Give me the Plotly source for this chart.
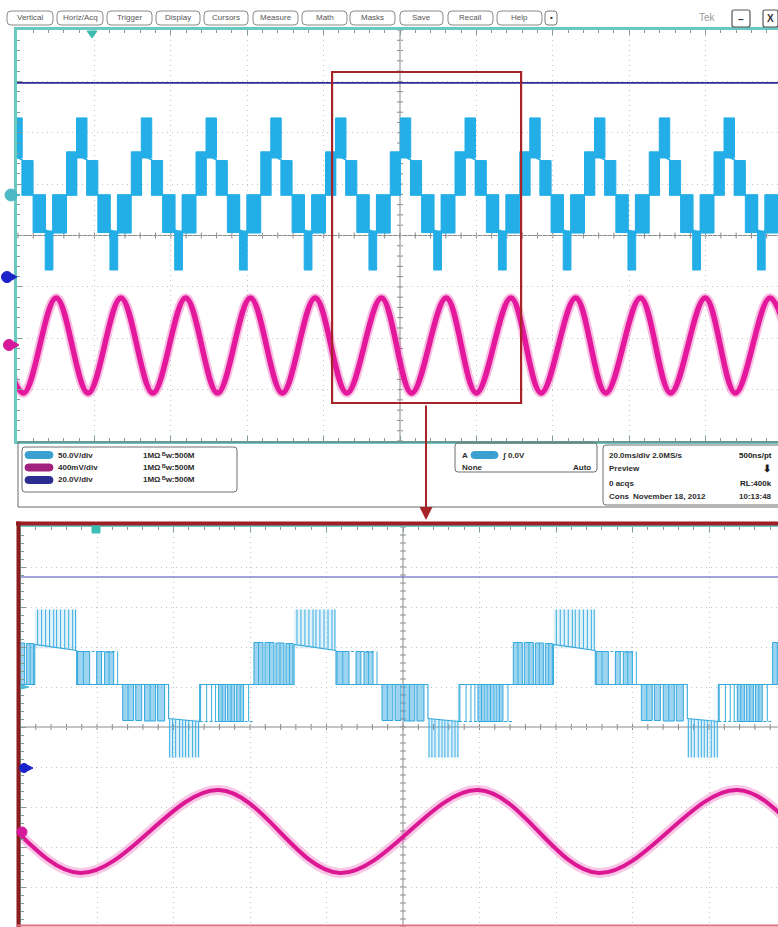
import plotly.graph_objects as go

W, H = 778, 927

# ------------------------------------------------------------------ data ---
# fundamental period of the inverter output (ms)
PERIOD_MS = 16.95
# start of every fundamental period inside the record (ms, trigger at 0 ms)
period_starts_ms = [-104.25, -87.30, -70.35, -53.40, -36.45, -19.50,
                    -2.55, 14.40, 31.35, 48.30, 65.25, 82.20, 99.15]

# CH1 - five-level inverter phase voltage (V); one period, times in ms
# measured from the start of the period.
# switching regions seen at 20 ms/div: (t_start, t_end, low V, high V)
ch1_regions = [
    (0.00, 2.62, 0.0, 42.0),      # PWM between 0 and +1 level
    (2.62, 5.36, 36.0, 75.0),     # +1 level with pulses to +2
    (5.36, 8.20, 0.0, 33.5),      # PWM between +1 and 0
    (8.20, 11.37, -36.5, 0.0),    # PWM between 0 and -1
    (11.37, 13.40, -73.0, -35.0), # -1 level with pulses to -2
    (13.40, 16.95, -37.0, 0.0),   # PWM between -1 and 0
]
# densely switched PWM blocks resolved at 5 ms/div: (t_start, t_end, low V, high V)
ch1_pwm_blocks = [
    (0.00, 0.59, 0.0, 42.0),
    (0.72, 1.31, 0.0, 42.0),
    (1.44, 1.96, 0.0, 41.5),
    (2.09, 2.55, 0.0, 41.0),
    (5.42, 6.21, 0.0, 33.0),
    (6.67, 6.99, 0.0, 33.0),
    (7.19, 7.78, 0.0, 32.5),
    (8.37, 9.08, -36.0, 0.0),
    (9.22, 9.61, -36.0, 0.0),
    (9.80, 10.52, -36.5, 0.0),
    (10.65, 11.11, -36.5, 0.0),
    (14.64, 15.10, -37.0, 0.0),
    (15.23, 15.69, -37.0, 0.0),
    (15.82, 16.27, -37.0, 0.0),
]
# single switching edges: (t, from V, to V)
ch1_pulses = [
    (0.30, 0.0, 42.0), (1.02, 0.0, 42.0), (1.70, 0.0, 41.5), (2.32, 0.0, 41.0),
    (2.81, 39.7, 75.0), (3.07, 39.1, 75.0), (3.33, 38.5, 75.0), (3.59, 38.0, 75.0),
    (3.86, 37.4, 75.0), (4.05, 36.9, 75.0), (4.31, 36.3, 75.0), (4.58, 35.7, 75.0),
    (4.84, 35.2, 75.0), (5.10, 34.6, 75.0), (5.29, 34.2, 75.0),
    (5.80, 0.0, 33.0), (7.48, 0.0, 32.5), (8.04, 0.0, 33.0),
    (8.72, -36.0, 0.0), (10.16, -36.5, 0.0),
    (11.44, -34.1, -73.0), (11.63, -34.4, -73.0), (11.83, -34.7, -73.0), (12.09, -35.0, -73.0),
    (12.29, -35.3, -73.0), (12.48, -35.6, -73.0), (12.68, -35.9, -73.0), (12.94, -36.2, -73.0),
    (13.14, -36.5, -73.0), (13.33, -36.8, -73.0),
    (13.46, -37.0, 0.0), (13.86, -37.0, 0.0), (14.18, -37.0, 0.0), (14.44, -37.0, 0.0),
    (14.87, -37.0, 0.0), (15.46, -37.0, 0.0), (16.05, -37.0, 0.0),
    (16.60, -37.0, 0.0),
]
# flat rails held between pulses: (t_start, t_end, V)
ch1_rails = [
    (5.36, 7.85, 33.0),
    (13.40, 16.95, -37.0),
]
# resting level path through one period
ch1_level_t_ms = [0.00, 2.62, 2.62, 5.36, 5.36, 11.37, 11.37, 13.40, 13.40, 16.95]
ch1_level_v = [0.0, 0.0, 40.0, 34.0, 0.0, 0.0, -34.0, -37.0, 0.0, 0.0]

# CH2 - load current probe output (mV): successive extremes of the waveform
ch2_t_ms = [-106.95, -98.60, -90.00, -81.65, -73.05, -64.70, -56.10, -47.75,
            -39.15, -30.80, -22.20, -13.90, -4.85, 3.07, 12.10, 20.00,
            29.05, 36.95, 46.00, 53.90, 62.95, 70.85, 79.90, 87.80,
            96.85, 104.75]
ch2_mv = [370, -370, 370, -370, 370, -370, 370, -370,
          370, -370, 370, -370, 370, -370, 370, -370,
          370, -370, 370, -370, 370, -370, 370, -370,
          370, -370]

# CH3 - DC link voltage (V)
ch3_t_ms = [-110.0, 110.0]
ch3_v = [75.5, 75.5]

# ------------------------------------------------------------- readouts ---
menu_labels = ["Vertical", "Horiz/Acq", "Trigger", "Display", "Cursors",
               "Measure", "Math", "Masks", "Save", "Recall", "Help"]
channel_scales = ["50.0V/div", "400mV/div", "20.0V/div"]
channel_inputs = ["1MΩ", "1MΩ", "1MΩ"]
channel_bw = ["500M", "500M", "500M"]
trigger_level = "0.0V"
timebase_rows = [("20.0ms/div 2.0MS/s", "500ns/pt"),
                 ("Preview", "⬇"),
                 ("0 acqs", "RL:400k")]
stamp = ("Cons", "November 18, 2012", "10:13:48")

# ------------------------------------------------------------- geometry ---
TEAL = "#69c8bf"
TICK = "#7f9c9a"
GRID = "#c4c4c4"
RULER = "#8a8a8a"
RED = "#a6232a"
CYAN = "#24aee7"
MAG = "#e3189d"
NAVY = "#2e2f96"
PANEL_TXT = "#2c2c2c"
FONT = "Liberation Sans, Arial, sans-serif"


def PX(x):
    return x / W


def PY(y):
    return 1 - y / H


# main display (20 ms/div, 8 vertical divisions)
UP_L, UP_R, UP_T, UP_B = 17, 778, 30, 441
UP_CX, UP_CY = 400, 235.5
UP_PX_PER_XDIV = 76.4
UP_MS_PER_PX = 20 / UP_PX_PER_XDIV
UP_PX_PER_DIV = (UP_B - UP_T) / 8
X_UP = [(UP_L - UP_CX) * UP_MS_PER_PX, (UP_R - UP_CX) * UP_MS_PER_PX]

# zoom display (5 ms/div)
LO_L, LO_R, LO_T, LO_B = 21, 778, 527, 927
LO_CX, LO_CY = 403, 727
LO_T_CENTER = 7.19
LO_PX_PER_XDIV = 76.5
LO_MS_PER_PX = 5 / LO_PX_PER_XDIV
LO_PX_PER_DIV = 40
X_LO = [LO_T_CENTER + (LO_L - LO_CX) * LO_MS_PER_PX,
        LO_T_CENTER + (LO_R - LO_CX) * LO_MS_PER_PX]

# channel ground marker row (px) and vertical gain (px per unit) on each display
UP_CH = {"ch1": (195.0, 1.028), "ch2": (345.5, 0.1285), "ch3": (277.0, 2.57)}
LO_CH = {"ch1": (684.5, 1.0), "ch2": (831.5, 0.1122), "ch3": (768.0, 2.53)}


def ch_range(gnd, ppu, top, bot):
    return [(gnd - bot) / ppu, (gnd - top) / ppu]


# ------------------------------------------------------------ helpers ---
def tile_rects(rects):
    xs, ys = [], []
    for s in period_starts_ms:
        for t0, t1, lo, hi in rects:
            xs += [s + t0, s + t1, s + t1, s + t0, s + t0, None]
            ys += [lo, lo, hi, hi, lo, None]
    return xs, ys


def tile_pulses(pulses):
    xs, ys = [], []
    for s in period_starts_ms:
        for t, a, b in pulses:
            xs += [s + t, s + t, None]
            ys += [a, b, None]
    return xs, ys


def tile_rails(rails):
    xs, ys = [], []
    for s in period_starts_ms:
        for t0, t1, v in rails:
            xs += [s + t0, s + t1, None]
            ys += [v, v, None]
    return xs, ys


def tile_path(ts, vs):
    xs, ys = [], []
    for s in period_starts_ms:
        xs += [s + t for t in ts]
        ys += list(vs)
    return xs, ys


reg_x, reg_y = tile_rects(ch1_regions)
blk_x, blk_y = tile_rects(ch1_pwm_blocks)
spk_x, spk_y = tile_rects([r for r in ch1_regions if abs(r[2]) > 1 and abs(r[3]) > 1])
pul_x, pul_y = tile_pulses(ch1_pulses)
rail_x, rail_y = tile_rails(ch1_rails)
lvl_x, lvl_y = tile_path(ch1_level_t_ms, ch1_level_v)

fig = go.Figure()


def add(tr):
    fig.add_trace(tr)


# ---------------------------------------------------------- main display ---
# y  = CH1 (V), y3 = CH2 (mV), y4 = CH3 (V)
add(go.Scatter(x=ch3_t_ms, y=ch3_v, mode="lines", xaxis="x", yaxis="y4",
               line=dict(color=NAVY, width=1.7), hoverinfo="skip"))
add(go.Scatter(x=reg_x, y=reg_y, mode="lines", fill="toself", fillcolor=CYAN,
               line=dict(color=CYAN, width=1), xaxis="x", yaxis="y", hoverinfo="skip"))
add(go.Scatter(x=lvl_x, y=lvl_y, mode="lines", line=dict(color=CYAN, width=1.6),
               xaxis="x", yaxis="y", hoverinfo="skip"))
add(go.Scatter(x=ch2_t_ms, y=ch2_mv, mode="lines", xaxis="x", yaxis="y3",
               line=dict(color="rgba(236,70,172,0.35)", width=9.5, shape="spline"),
               hoverinfo="skip"))
add(go.Scatter(x=ch2_t_ms, y=ch2_mv, mode="lines", xaxis="x", yaxis="y3",
               line=dict(color=MAG, width=5.5, shape="spline"), hoverinfo="skip"))

# ---------------------------------------------------------- zoom display ---
# y2 = CH1 (V), y5 = CH2 (mV), y6 = CH3 (V)
add(go.Scatter(x=ch3_t_ms, y=ch3_v, mode="lines", xaxis="x2", yaxis="y6",
               line=dict(color="#4748b2", width=1.2), hoverinfo="skip"))
add(go.Scatter(x=spk_x, y=spk_y, mode="lines", fill="toself",
               fillcolor="rgba(90,185,232,0.18)", line=dict(width=0),
               xaxis="x2", yaxis="y2", hoverinfo="skip"))
add(go.Scatter(x=blk_x, y=blk_y, mode="lines", fill="toself",
               fillcolor="rgba(60,172,228,0.50)", line=dict(color="#30a7dd", width=1),
               xaxis="x2", yaxis="y2", hoverinfo="skip"))
add(go.Scatter(x=pul_x, y=pul_y, mode="lines", line=dict(color="#3aaee2", width=1),
               xaxis="x2", yaxis="y2", hoverinfo="skip"))
add(go.Scatter(x=rail_x, y=rail_y, mode="lines",
               line=dict(color="#34a9de", width=1, dash="3px,2px"),
               xaxis="x2", yaxis="y2", hoverinfo="skip"))
add(go.Scatter(x=lvl_x, y=lvl_y, mode="lines", line=dict(color="#34a9de", width=1.1),
               xaxis="x2", yaxis="y2", hoverinfo="skip"))
add(go.Scatter(x=ch2_t_ms, y=ch2_mv, mode="lines", xaxis="x2", yaxis="y5",
               line=dict(color="rgba(236,70,172,0.30)", width=10, shape="spline"),
               hoverinfo="skip"))
add(go.Scatter(x=ch2_t_ms, y=ch2_mv, mode="lines", xaxis="x2", yaxis="y5",
               line=dict(color="#dc1793", width=4, shape="spline"), hoverinfo="skip"))


# ----------------------------------------------------------------- axes ---
def frame_x(domain, rng, dtick, tick0, anchor, side, mirror, lw):
    return dict(domain=domain, range=rng, anchor=anchor, side=side,
                tickmode="linear", dtick=dtick, tick0=tick0,
                showgrid=True, gridcolor=GRID, griddash="1px,4px", gridwidth=1,
                zeroline=False, showticklabels=False,
                showline=True, linecolor=TEAL, linewidth=lw, mirror=mirror,
                ticks="inside", ticklen=5, tickcolor=TICK, tickwidth=1,
                minor=dict(dtick=dtick / 5, tick0=tick0, ticks="inside", ticklen=3,
                           tickcolor=TICK, showgrid=False),
                fixedrange=True)


def frame_y(domain, gnd, ppu, top, bot, center, px_per_div, anchor, lw):
    """CH1 axis; its grid is laid out on the graticule divisions."""
    dtick = px_per_div / ppu
    tick0 = (gnd - center) / ppu
    return dict(domain=domain, range=ch_range(gnd, ppu, top, bot), anchor=anchor,
                tickmode="linear", dtick=dtick, tick0=tick0,
                showgrid=True, gridcolor=GRID, griddash="1px,4px", gridwidth=1,
                zeroline=False, showticklabels=False,
                showline=True, linecolor=TEAL, linewidth=lw, mirror=False,
                ticks="inside", ticklen=5, tickcolor=TICK, tickwidth=1,
                minor=dict(dtick=dtick / 5, tick0=tick0, ticks="inside", ticklen=3,
                           tickcolor=TICK, showgrid=False),
                fixedrange=True)


def channel(base, anchor, rng):
    return dict(overlaying=base, anchor=anchor, range=rng, visible=False,
                showgrid=False, zeroline=False, fixedrange=True)


up_xdom = [PX(UP_L), 1.0]
up_ydom = [PY(UP_B), PY(UP_T)]
lo_xdom = [PX(LO_L), 1.0]
lo_ydom = [max(PY(LO_B), 0.0), PY(LO_T)]

layout_axes = dict(
    xaxis=frame_x(up_xdom, X_UP, 20, 0, "y", "bottom", "ticks", 3),
    yaxis=frame_y(up_ydom, *UP_CH["ch1"], UP_T, UP_B, UP_CY, UP_PX_PER_DIV, "x", 3),
    xaxis2=frame_x(lo_xdom, X_LO, 5, LO_T_CENTER, "y2", "top", False, 1.5),
    yaxis2=frame_y(lo_ydom, *LO_CH["ch1"], LO_T, LO_B, LO_CY, LO_PX_PER_DIV, "x2", 1.5),
    yaxis3=channel("y", "x", ch_range(*UP_CH["ch2"], UP_T, UP_B)),
    yaxis4=channel("y", "x", ch_range(*UP_CH["ch3"], UP_T, UP_B)),
    yaxis5=channel("y2", "x2", ch_range(*LO_CH["ch2"], LO_T, LO_B)),
    yaxis6=channel("y2", "x2", ch_range(*LO_CH["ch3"], LO_T, LO_B)),
)

# ---------------------------------------------------- UI shapes & text ---
shapes = []
annotations = []


def seg_path(segs):
    return " ".join(f"M {PX(a)},{PY(b)} L {PX(c)},{PY(d)}" for a, b, c, d in segs)


def ruler_shapes(left, right, top, bottom, cx, cy, xstep, ystep):
    """Center cross of the graticule with its small division marks."""
    segs = [(left, cy, right, cy), (cx, top, cx, bottom)]
    k = 0
    while cx - k * xstep >= left - 0.1 or cx + k * xstep <= right + 0.1:
        for x in {cx - k * xstep, cx + k * xstep}:
            if left <= x <= right:
                segs.append((x, cy - 3, x, cy + 3))
        k += 1
    k = 0
    while cy - k * ystep >= top - 0.1 or cy + k * ystep <= bottom + 0.1:
        for y in {cy - k * ystep, cy + k * ystep}:
            if top <= y <= bottom:
                segs.append((cx - 3, y, cx + 3, y))
        k += 1
    shapes.append(dict(type="path", xref="paper", yref="paper", path=seg_path(segs),
                       line=dict(color=RULER, width=1), layer="below"))


ruler_shapes(UP_L, UP_R, UP_T, UP_B, UP_CX, UP_CY, UP_PX_PER_XDIV / 5, UP_PX_PER_DIV / 5)
ruler_shapes(LO_L, LO_R, LO_T, LO_B, LO_CX, LO_CY, LO_PX_PER_XDIV / 5, LO_PX_PER_DIV / 5)


def rrect_path(x0, y0, x1, y1, r):
    return (f"M {PX(x0 + r)},{PY(y0)} L {PX(x1 - r)},{PY(y0)} "
            f"Q {PX(x1)},{PY(y0)} {PX(x1)},{PY(y0 + r)} "
            f"L {PX(x1)},{PY(y1 - r)} Q {PX(x1)},{PY(y1)} {PX(x1 - r)},{PY(y1)} "
            f"L {PX(x0 + r)},{PY(y1)} Q {PX(x0)},{PY(y1)} {PX(x0)},{PY(y1 - r)} "
            f"L {PX(x0)},{PY(y0 + r)} Q {PX(x0)},{PY(y0)} {PX(x0 + r)},{PY(y0)} Z")


def rbox(x0, y0, x1, y1, r=3, line="#7a7a7a", width=1, fill="rgba(0,0,0,0)"):
    shapes.append(dict(type="path", xref="paper", yref="paper",
                       path=rrect_path(x0, y0, x1, y1, r),
                       line=dict(color=line, width=width), fillcolor=fill,
                       layer="above"))


def text(x, y, s, size=8, color=PANEL_TXT, anchor="left", bold=True):
    annotations.append(dict(x=PX(x), y=PY(y), xref="paper", yref="paper",
                            text=f"<b>{s}</b>" if bold else s, showarrow=False,
                            xanchor=anchor, yanchor="middle",
                            font=dict(family=FONT, size=size, color=color)))


def circle(cx, cy, r, fill, line=None):
    shapes.append(dict(type="circle", xref="paper", yref="paper",
                       x0=PX(cx - r), x1=PX(cx + r), y0=PY(cy + r), y1=PY(cy - r),
                       fillcolor=fill, line=dict(color=line or fill, width=1),
                       layer="above"))


def poly(points, fill):
    p = "M " + " L ".join(f"{PX(x)},{PY(y)}" for x, y in points) + " Z"
    shapes.append(dict(type="path", xref="paper", yref="paper", path=p,
                       fillcolor=fill, line=dict(color=fill, width=1), layer="above"))


# menu bar
button_spans = [(7, 53), (57, 103), (107, 152), (156, 200), (204, 248), (253, 298),
                (302, 347), (350, 395), (400, 443), (448, 493), (497, 542)]
for lab, (a, b) in zip(menu_labels, button_spans):
    rbox(a, 11, b, 25, r=4, line="#8a8a8a", width=1)
    text((a + b) / 2, 18, f"<span>{lab}</span>", size=8, color="#555555",
         anchor="center", bold=False)
rbox(545, 11, 557, 25, r=3, line="#7a7a7a")
text(551, 18, "•", size=8, color="#333", anchor="center")
text(707, 18, "<span>Tek</span>", size=10, color="#9c9c9c", anchor="center", bold=False)
rbox(732, 10, 750, 27, r=2, line="#555", width=1.2)
text(741, 19, "–", size=10, color="#333", anchor="center")
rbox(763, 10, 778, 27, r=2, line="#555", width=1.2)
text(770, 18.5, "X", size=10, color="#333", anchor="center")

# channel ground markers on the main display
circle(11, 195, 6, "#4db9c6")
shapes.append(dict(type="line", xref="paper", yref="paper", x0=PX(16), x1=PX(20),
                   y0=PY(195), y1=PY(195), line=dict(color="#4db9c6", width=2)))
circle(7, 277, 5.5, "#1b22c8")
poly([(12, 274), (17, 277), (12, 280)], "#1b22c8")
circle(9, 345, 5.5, "#d6199a")
poly([(14, 342), (19, 345), (14, 348)], "#d6199a")
# trigger position marker
poly([(87, 31), (97, 31), (92, 38)], "#3cbdb2")

# zoom window on the main display and the pointer to the zoomed view
shapes.append(dict(type="rect", xref="x", yref="paper", x0=X_LO[0], x1=X_LO[1],
                   y0=PY(403), y1=PY(72), line=dict(color=RED, width=2.2),
                   fillcolor="rgba(0,0,0,0)", layer="above"))
annotations.append(dict(x=PX(426), y=PY(520), xref="paper", yref="paper",
                        ax=0, ay=-(520 - 404), text="", showarrow=True,
                        arrowhead=2, arrowsize=1.3, arrowwidth=2, arrowcolor=RED))

# readout panel
shapes.append(dict(type="rect", xref="paper", yref="paper", x0=PX(18), x1=PX(800),
                   y0=PY(507), y1=PY(442), line=dict(color="#6a6a6a", width=1),
                   fillcolor="rgba(0,0,0,0)", layer="above"))
rbox(22, 447, 237, 492, r=3, line="#6f6f6f")
pill_colors = ["#3b9fd0", "#a2237f", "#2b2e8e"]
row_y = [455, 467.5, 480]
for i in range(3):
    rbox(25, row_y[i] - 3.5, 53, row_y[i] + 3.5, r=3.5, line=pill_colors[i],
         fill=pill_colors[i])
    text(56, row_y[i], channel_scales[i], size=8)
    text(141, row_y[i], channel_inputs[i], size=8)
    text(160, row_y[i], f"ᴮw:{channel_bw[i]}", size=8)

rbox(455, 443, 597, 472, r=3, line="#6f6f6f")
text(460, 455, "A", size=8)
rbox(471, 451.5, 498, 458.5, r=3.5, line=pill_colors[0], fill=pill_colors[0])
text(500, 455, "ʃ " + trigger_level, size=8)
text(460, 467, "None", size=8)
text(571, 467, "Auto", size=8)

rbox(603, 445, 800, 505, r=3, line="#6f6f6f")
tb_y = [455, 468, 483]
for (lft, rgt), y in zip(timebase_rows, tb_y):
    text(607, y, lft, size=8)
    if rgt == "⬇":
        text(767, y, rgt, size=10, anchor="center", color="#1a1a1a")
    else:
        text(774, y, rgt, size=8, anchor="right", color="#1a1a1a")
text(607, 496.5, stamp[0], size=8)
text(631, 496.5, stamp[1], size=8)
text(774, 496.5, stamp[2], size=8, anchor="right")

# zoomed view frame
shapes.append(dict(type="line", xref="paper", yref="paper", x0=PX(16), x1=PX(800),
                   y0=PY(523.5), y1=PY(523.5), line=dict(color="#9e1f24", width=4),
                   layer="above"))
shapes.append(dict(type="line", xref="paper", yref="paper", x0=PX(18.5), x1=PX(18.5),
                   y0=PY(521.5), y1=PY(930), line=dict(color="#8c1c1f", width=4),
                   layer="above"))
shapes.append(dict(type="line", xref="paper", yref="paper", x0=PX(17), x1=PX(800),
                   y0=PY(925.5), y1=PY(925.5), line=dict(color="#e2707e", width=2),
                   layer="above"))
# channel ground markers on the zoomed view
poly([(21, 685), (29, 687), (21, 689)], "#4db9d6")
circle(24, 768, 4.5, "#1b22c8")
poly([(28, 765.5), (33, 768), (28, 770.5)], "#1b22c8")
circle(22, 832, 5, "#d6199a")
# trigger position marker on the zoomed view
shapes.append(dict(type="rect", xref="paper", yref="paper", x0=PX(92), x1=PX(100),
                   y0=PY(533), y1=PY(526), fillcolor="#3cbdb2",
                   line=dict(color="#3cbdb2", width=1), layer="above"))

fig.update_layout(
    width=W, height=H,
    margin=dict(l=0, r=0, t=0, b=0, pad=0),
    paper_bgcolor="white", plot_bgcolor="rgba(0,0,0,0)",
    showlegend=False,
    shapes=shapes, annotations=annotations,
    **layout_axes,
)

fig.write_html("out.html", config={"displayModeBar": False})
